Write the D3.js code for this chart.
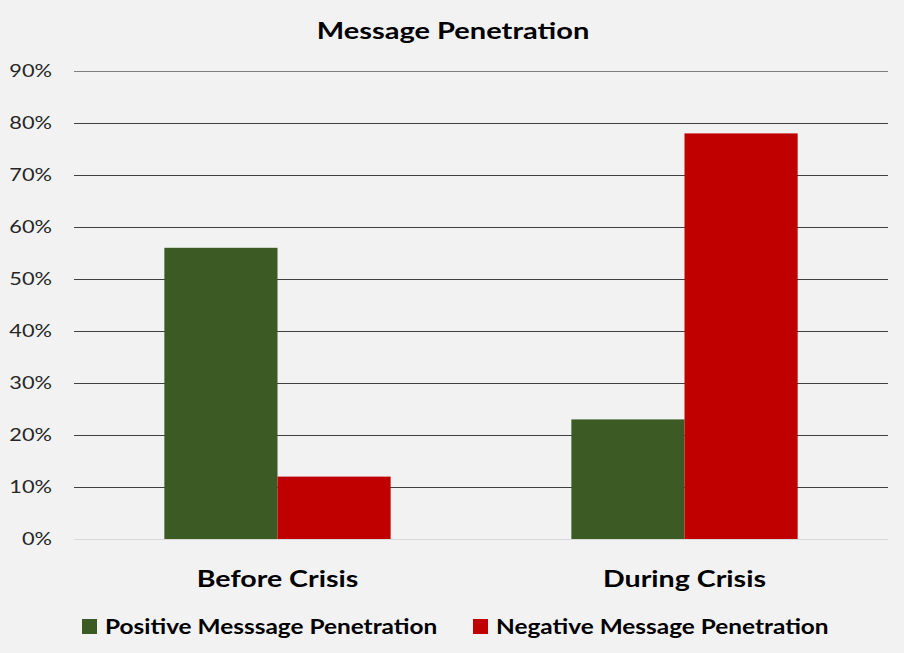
<!DOCTYPE html>
<html>
<head>
<meta charset="utf-8">
<script src="https://cdn.jsdelivr.net/npm/d3@7"></script>
<style>
  html, body { margin: 0; padding: 0; background: #f2f2f2; }
  svg { display: block; font-family: Lato, "Open Sans", sans-serif; }
</style>
</head>
<body>
<script>
// Chart data
const categories = ["Before Crisis", "During Crisis"];
const seriesNames = ["Positive Messsage Penetration", "Negative Message Penetration"];
const positiveValues = [0.56, 0.23];
const negativeValues = [0.12, 0.78];
const yTicks = [0, 0.1, 0.2, 0.3, 0.4, 0.5, 0.6, 0.7, 0.8, 0.9];
const seriesColors = ["#3b5a24", "#c00000"];

const W = 904, H = 653;
const margin = { top: 71, right: 16, bottom: 114, left: 74 };
const plotW = W - margin.left - margin.right;
const plotH = H - margin.top - margin.bottom;

// Widen glyphs horizontally about each text's own x anchor
function stretch(sel, k) {
  sel.each(function () {
    const t = d3.select(this);
    const x = +t.attr("x") || 0;
    t.attr("transform", `translate(${x * (1 - k)},0) scale(${k},1)`);
  });
}

const svg = d3.select("body").append("svg")
  .attr("width", W).attr("height", H);

svg.append("rect").attr("width", W).attr("height", H).attr("fill", "#f2f2f2");

// Title
svg.append("text")
  .attr("x", W / 2 + 1).attr("y", 39)
  .attr("text-anchor", "middle")
  .attr("font-size", 22).attr("font-weight", "bold").attr("fill", "#000")
  .text("Message Penetration")
  .call(stretch, 1.32);

const g = svg.append("g").attr("transform", `translate(${margin.left},${margin.top})`);

const y = d3.scaleLinear().domain([0, 0.9]).range([plotH, 0]);
const x0 = d3.scaleBand().domain(categories).range([0, plotW]).paddingInner(0).paddingOuter(0);
const groupW = x0.bandwidth() * 0.556;
const x1 = d3.scaleBand().domain(seriesNames)
  .range([(x0.bandwidth() - groupW) / 2, (x0.bandwidth() + groupW) / 2]).padding(0);

// Gridlines
g.append("g").selectAll("line").data(yTicks).join("line")
  .attr("x1", 0).attr("x2", plotW)
  .attr("y1", d => Math.round(y(d)) + 0.5).attr("y2", d => Math.round(y(d)) + 0.5)
  .attr("stroke", d => d === 0 ? "#d9d9d9" : (d === 0.9 ? "#7f7f7f" : "#404040"))
  .attr("stroke-width", 1);

// Y axis labels
const yAxis = d3.axisLeft(y).tickValues(yTicks).tickFormat(d3.format(".0%")).tickSize(0).tickPadding(22);
const ya = g.append("g").call(yAxis);
ya.select(".domain").remove();
ya.selectAll("text").attr("font-size", 17).attr("fill", "#262626")
  .attr("font-family", "Lato, sans-serif")
  .call(stretch, 1.28);

// Bars
const rows = categories.map((c, i) => ({ cat: c, vals: [positiveValues[i], negativeValues[i]] }));
const groups = g.selectAll("g.cat").data(rows).join("g")
  .attr("class", "cat")
  .attr("transform", d => `translate(${x0(d.cat)},0)`);
groups.selectAll("rect").data(d => d.vals.map((v, j) => ({ v, s: seriesNames[j], j })))
  .join("rect")
  .attr("x", d => x1(d.s))
  .attr("width", x1.bandwidth())
  .attr("y", d => y(d.v))
  .attr("height", d => y(0) - y(d.v))
  .attr("fill", d => seriesColors[d.j]);

// Category labels
const xAxis = d3.axisBottom(x0).tickSize(0).tickPadding(32);
const xa = g.append("g").attr("transform", `translate(0,${plotH})`).call(xAxis);
xa.select(".domain").remove();
xa.selectAll("text").attr("font-size", 22).attr("font-weight", "bold").attr("fill", "#000")
  .attr("font-family", "Lato, sans-serif")
  .call(stretch, 1.3);

// Legend
const legendX = [82, 473];
const legend = svg.append("g");
seriesNames.forEach((s, i) => {
  legend.append("rect")
    .attr("x", legendX[i]).attr("y", 619).attr("width", 15).attr("height", 15)
    .attr("fill", seriesColors[i]);
  legend.append("text")
    .attr("x", legendX[i] + 23).attr("y", 634)
    .attr("font-size", 20).attr("font-weight", "bold").attr("fill", "#000")
    .text(s)
    .call(stretch, 1.22);
});
</script>
</body>
</html>
